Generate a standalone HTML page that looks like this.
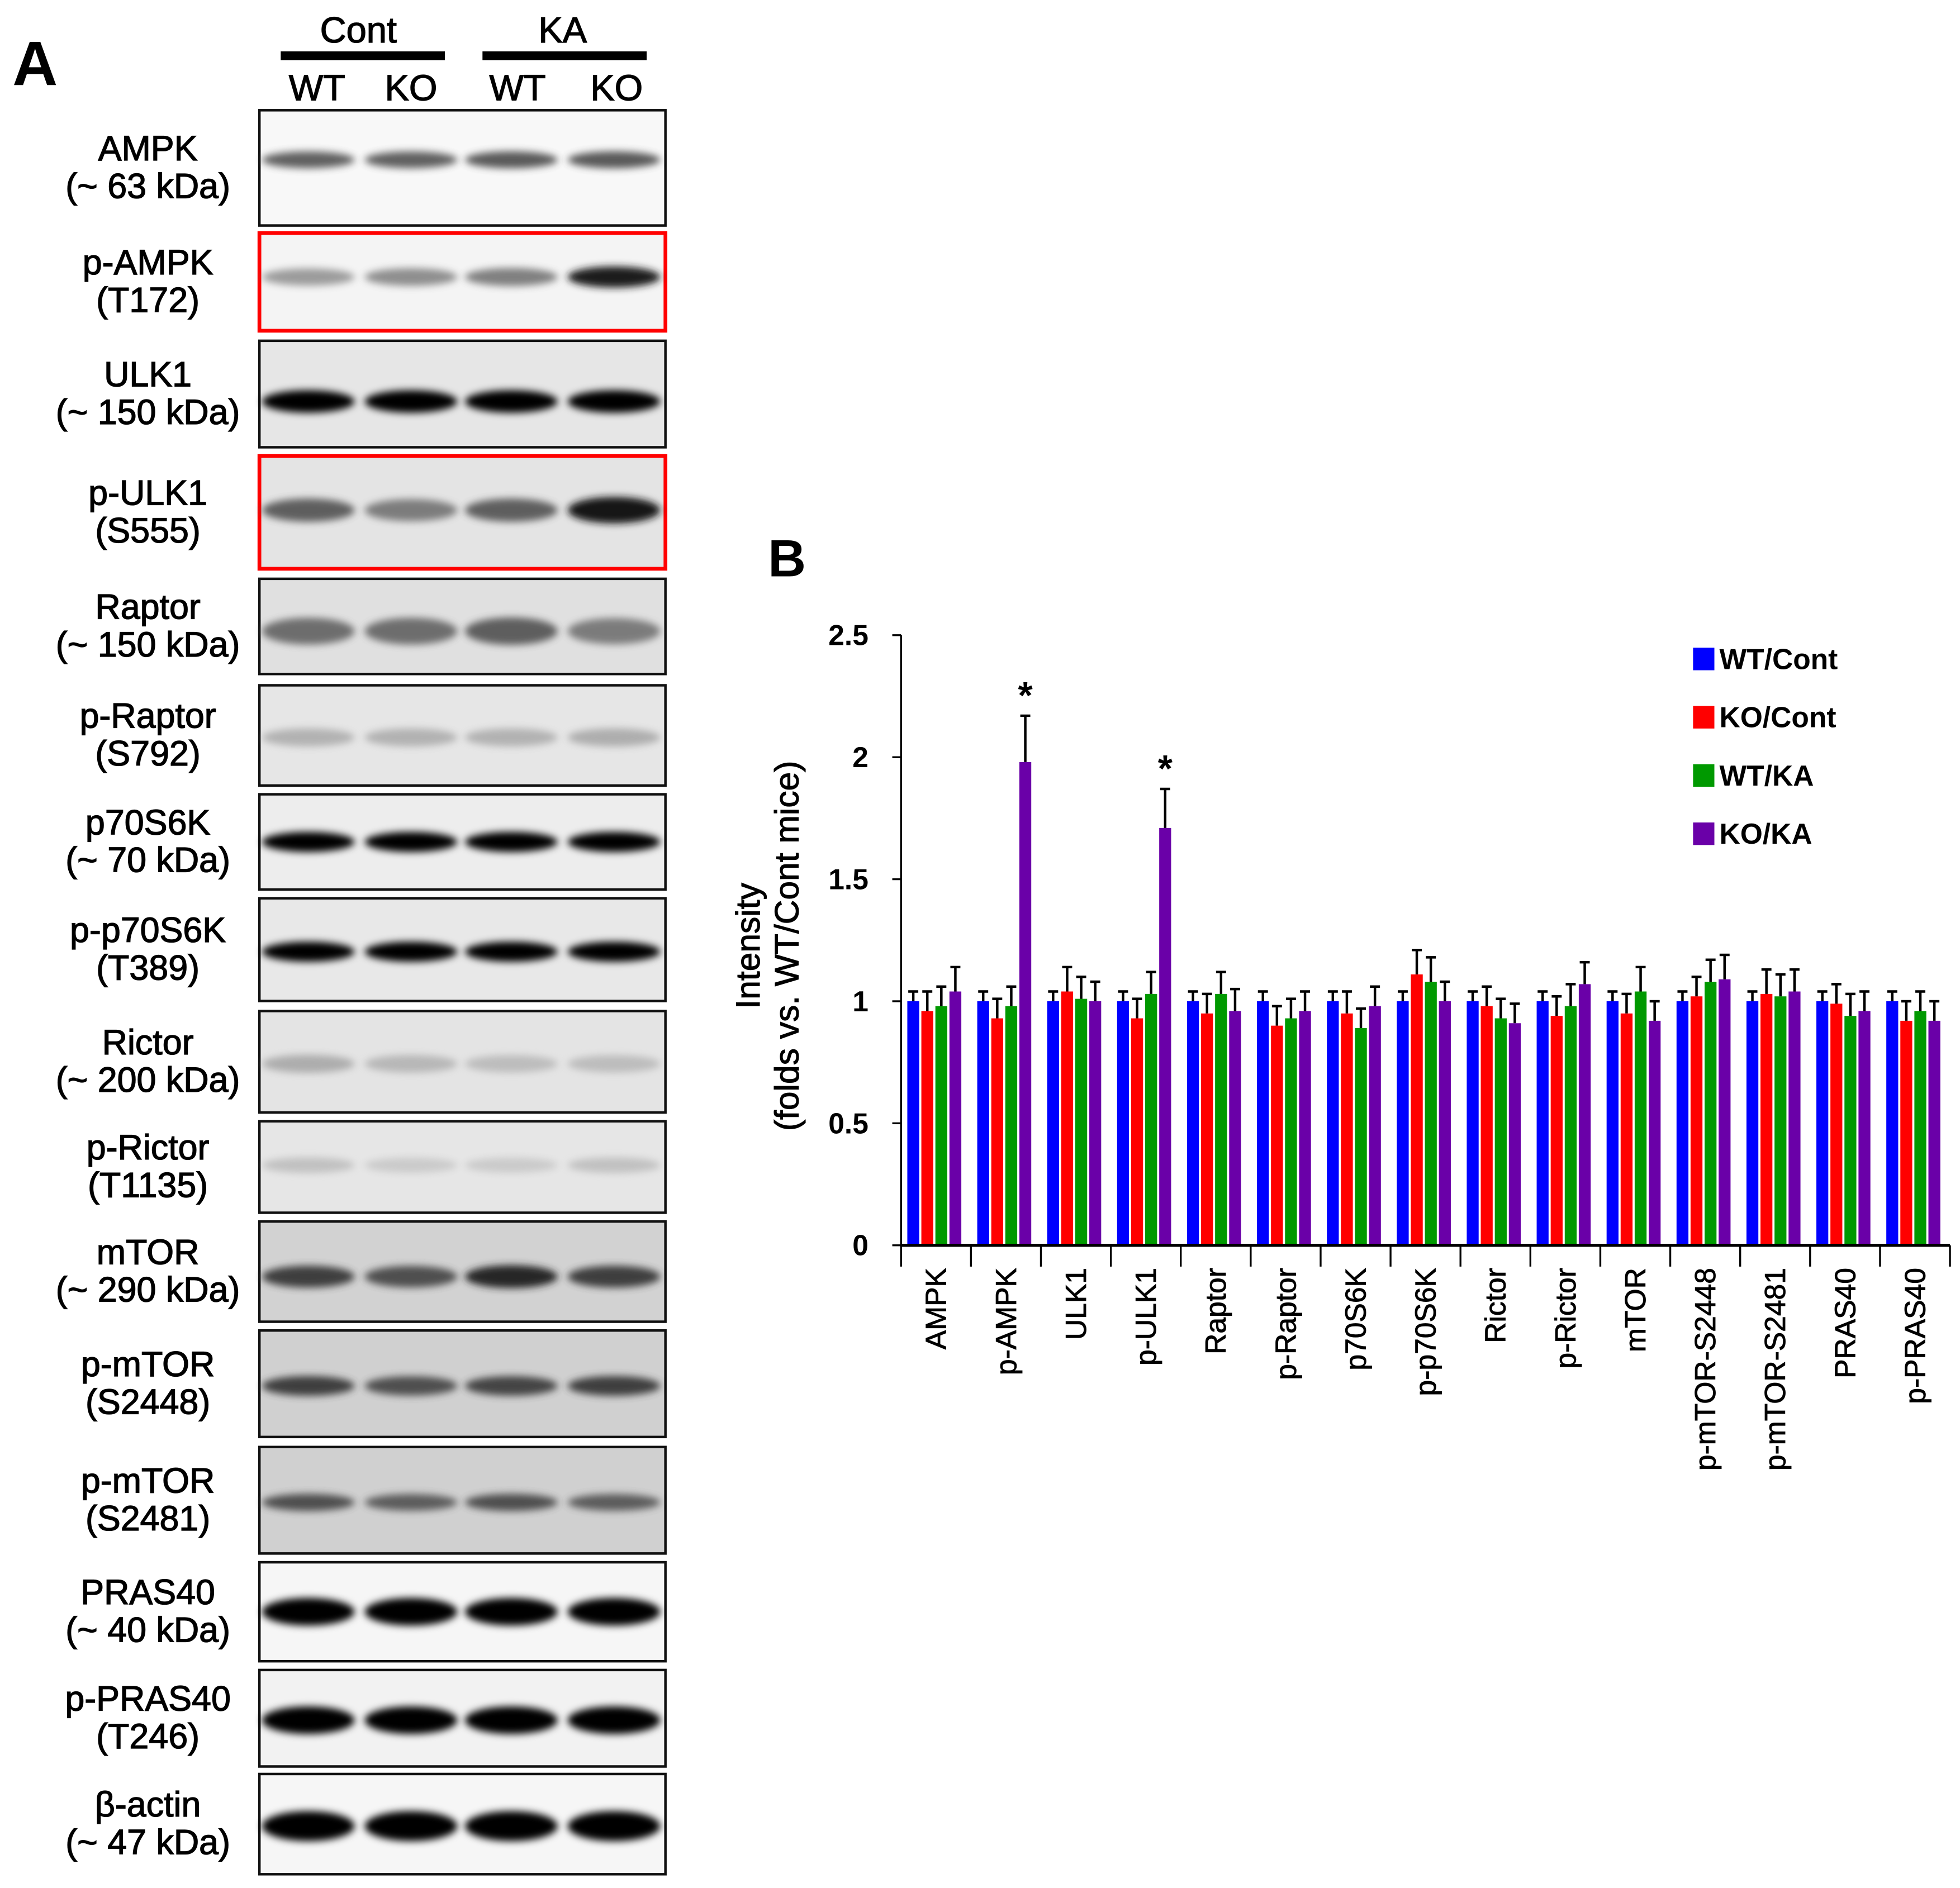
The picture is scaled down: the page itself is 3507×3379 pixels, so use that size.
<!DOCTYPE html>
<html><head><meta charset="utf-8"><style>
html,body{margin:0;padding:0;background:#fff;}
svg{display:block;font-family:"Liberation Sans",Arial,sans-serif;}
</style></head><body>
<svg id="fig" width="3507" height="3379" viewBox="0 0 1564 1507" preserveAspectRatio="none" xmlns="http://www.w3.org/2000/svg">
<defs>
<filter id="blur" x="-30%" y="-100%" width="160%" height="300%"><feGaussianBlur stdDeviation="3"/></filter>
</defs>
<g id="panelA"></g>
<g id="panelB"></g>
</svg>
<script>
const NS='http://www.w3.org/2000/svg';
function mk(tag,attrs,parent,txt){const e=document.createElementNS(NS,tag);for(const k in attrs)e.setAttribute(k,attrs[k]);if(txt!==undefined)e.textContent=txt;parent.appendChild(e);return e;}

// ---------- Chart data ----------
const categories=['AMPK','p-AMPK','ULK1','p-ULK1','Raptor','p-Raptor','p70S6K','p-p70S6K','Rictor','p-Rictor','mTOR','p-mTOR-S2448','p-mTOR-S2481','PRAS40','p-PRAS40'];
const seriesNames=['WT/Cont','KO/Cont','WT/KA','KO/KA'];
const wtCont=[1,1,1,1,1,1,1,1,1,1,1,1,1,1,1];
const koCont=[0.96,0.93,1.04,0.93,0.95,0.90,0.95,1.11,0.98,0.94,0.95,1.02,1.03,0.99,0.92];
const wtKA=[0.98,0.98,1.01,1.03,1.03,0.93,0.89,1.08,0.93,0.98,1.04,1.08,1.02,0.94,0.96];
const koKA=[1.04,1.98,1.00,1.71,0.96,0.96,0.98,1.00,0.91,1.07,0.92,1.09,1.04,0.96,0.92];
const wtContErr=[0.04,0.04,0.04,0.04,0.04,0.04,0.04,0.04,0.04,0.04,0.04,0.04,0.04,0.04,0.04];
const koContErr=[0.08,0.08,0.10,0.08,0.08,0.08,0.09,0.10,0.08,0.08,0.08,0.08,0.10,0.08,0.08];
const wtKAErr=[0.08,0.08,0.09,0.09,0.09,0.08,0.08,0.10,0.08,0.09,0.10,0.09,0.09,0.09,0.08];
const koKAErr=[0.10,0.19,0.08,0.16,0.09,0.08,0.08,0.08,0.08,0.09,0.08,0.10,0.09,0.08,0.08];
const significant=[false,true,false,true,false,false,false,false,false,false,false,false,false,false,false];
const yTicks=[0,0.5,1,1.5,2,2.5];
const yTickLabels=['0','0.5','1','1.5','2','2.5'];

// ---------- Blot data ----------
const blotLabels=[['AMPK','(~ 63 kDa)'],['p-AMPK','(T172)'],['ULK1','(~ 150 kDa)'],['p-ULK1','(S555)'],['Raptor','(~ 150 kDa)'],['p-Raptor','(S792)'],['p70S6K','(~ 70 kDa)'],['p-p70S6K','(T389)'],['Rictor','(~ 200 kDa)'],['p-Rictor','(T1135)'],['mTOR','(~ 290 kDa)'],['p-mTOR','(S2448)'],['p-mTOR','(S2481)'],['PRAS40','(~ 40 kDa)'],['p-PRAS40','(T246)'],['β-actin','(~ 47 kDa)']];
const bandIntensity=[[0.6,0.6,0.62,0.62],[0.4,0.45,0.5,0.85],[1,1,1,1],[0.6,0.5,0.6,0.9],[0.55,0.55,0.6,0.5],[0.28,0.28,0.28,0.3],[1,1,1,1],[1,1,1,1],[0.3,0.25,0.22,0.22],[0.2,0.14,0.14,0.2],[0.7,0.65,0.8,0.7],[0.7,0.65,0.68,0.7],[0.65,0.6,0.65,0.6],[1,1,1,1],[1,1,1,1],[1,1,1,1]];

// ---------- Panel A ----------
const A=document.getElementById('panelA');
const rows=[[88,180,'#f8f8f8',0.43,8],[186,264,'#f4f4f4',0.45,9],[272,357,'#e6e6e6',0.57,9],[364,454,'#e4e4e4',0.48,11],[462,538,'#e0e0e0',0.55,13],[547,627,'#e6e6e6',0.52,10],[634,710,'#ededed',0.5,8],[717,799,'#e8e8e8',0.52,8],[807,888,'#e4e4e4',0.52,10],[895,968,'#e6e6e6',0.48,9],[975,1055,'#d2d2d2',0.55,10],[1062,1147,'#d0d0d0',0.52,9],[1155,1240,'#d0d0d0',0.52,8],[1247,1326,'#f6f6f6',0.5,11],[1333,1410,'#f2f2f2',0.52,11],[1416,1496,'#f6f6f6',0.52,12]];
const laneX=[246,328,408,490];
let t=mk('text',{x:28,y:68,'font-size':50,'font-weight':'bold','text-anchor':'middle'},A,'A');

const hdr=[['Cont',286,224,355],['KA',449,385,516]];
hdr.forEach(h=>{let tt=mk('text',{x:h[1],y:34,'font-size':29,'text-anchor':'middle',stroke:'#000','stroke-width':0.6},A,h[0]);

let l=mk('rect',{x:h[2],y:41,width:h[3]-h[2],height:7,fill:'#000'},A);
});
['WT','KO','WT','KO'].forEach((s,i)=>{let tt=mk('text',{x:[253,328,413,492][i],y:80,'font-size':29,'text-anchor':'middle',stroke:'#000','stroke-width':0.6},A,s);
});
rows.forEach((r,i)=>{
 const [y0,y1,bg,f,ry]=r;const red=(i===1||i===3);
 let box=mk('rect',{x:207,y:y0,width:324,height:y1-y0,fill:bg,stroke:red?'#ff0000':'#111','stroke-width':red?3:2},A);
 
 const cy=y0+(y1-y0)*f;
 laneX.forEach((lx,j)=>{const v=bandIntensity[i][j];const g=Math.round(200*(1-v));
  let b=mk('ellipse',{cx:lx,cy:cy,rx:37,ry:ry*(0.6+0.4*v),fill:'rgb('+g+','+g+','+g+')',opacity:0.35+0.65*Math.min(1,v*1.4),filter:'url(#blur)'},A);
  });
 const ym=(y0+y1)/2;
 let l1=mk('text',{x:118,y:ym-6,'font-size':28,'text-anchor':'middle',stroke:'#000','stroke-width':0.6},A,blotLabels[i][0]);
 
 let l2=mk('text',{x:118,y:ym+24,'font-size':28,'text-anchor':'middle',stroke:'#000','stroke-width':0.6},A,blotLabels[i][1]);
 
});

// ---------- Panel B ----------
const B=document.getElementById('panelB');
const x0=719,x1=1556,yBase=994,yTop=507,yMax=2.5;
const ys=v=>yBase-(v/yMax)*(yBase-yTop);
const gw=(x1-x0)/categories.length;
const xs=i=>x0+i*gw;
const colors=['#0000ff','#ff0000','#009900','#6a00a8'];
const series=[wtCont,koCont,wtKA,koKA];
const errs=[wtContErr,koContErr,wtKAErr,koKAErr];
t=mk('text',{x:628,y:460,'font-size':42,'font-weight':'bold','text-anchor':'middle'},B,'B');

categories.forEach((c,i)=>{
 series.forEach((s,k)=>{
  const bx=xs(i)+5+k*11.2, v=s[i], e=errs[k][i], cx=bx+4.75;
  let r=mk('rect',{x:bx,y:ys(v),width:9.5,height:yBase-ys(v),fill:colors[k]},B);
  
  let el=mk('path',{d:`M${cx} ${ys(v)}V${ys(v+e)}M${cx-4} ${ys(v+e)}H${cx+4}`,stroke:'#000','stroke-width':2,fill:'none'},B);
  
 });
 if(significant[i]){const top=koKA[i]+koKAErr[i];
  let st=mk('text',{x:xs(i)+5+3*11.2+4.75,y:ys(top)-6,'font-size':30,'font-weight':'bold','text-anchor':'middle'},B,'*');
  }
 let tk=mk('line',{x1:xs(i),x2:xs(i),y1:yBase,y2:yBase+17,stroke:'#000','stroke-width':1.5},B);
 
 const cx=xs(i)+gw/2+8;
 let lb=mk('text',{x:0,y:0,'font-size':23,'text-anchor':'end',stroke:'#000','stroke-width':0.4,transform:`translate(${cx},1012) rotate(-90)`},B,c);
 
});
let tk2=mk('line',{x1:x1,x2:x1,y1:yBase,y2:yBase+17,stroke:'#000','stroke-width':1.5},B);

let ax=mk('line',{x1:x0,x2:x1,y1:yBase,y2:yBase,stroke:'#000','stroke-width':2.5},B);

let ay=mk('line',{x1:x0,x2:x0,y1:yTop,y2:yBase,stroke:'#000','stroke-width':1.5},B);

yTicks.forEach((v,i)=>{
 let l=mk('line',{x1:x0-7,x2:x0,y1:ys(v),y2:ys(v),stroke:'#000','stroke-width':1.5},B);
 
 let tl=mk('text',{x:693,y:ys(v)+8,'font-size':23,'font-weight':'bold','text-anchor':'end'},B,yTickLabels[i]);
 
});
let yt=mk('text',{x:0,y:0,'font-size':27,'text-anchor':'middle',stroke:'#000','stroke-width':0.5,transform:'translate(606,755) rotate(-90)'},B,'Intensity');

let yt2=mk('text',{x:0,y:0,'font-size':27,'text-anchor':'middle',stroke:'#000','stroke-width':0.5,transform:'translate(637,755) rotate(-90)'},B,'(folds vs. WT/Cont mice)');

seriesNames.forEach((n,k)=>{
 const y=526+k*46.5;
 let sq=mk('rect',{x:1351,y:y-9,width:17,height:18,fill:colors[k]},B);
 
 let lt=mk('text',{x:1372,y:y+8,'font-size':23,'font-weight':'bold'},B,n);
 
});
</script>
</body></html>
